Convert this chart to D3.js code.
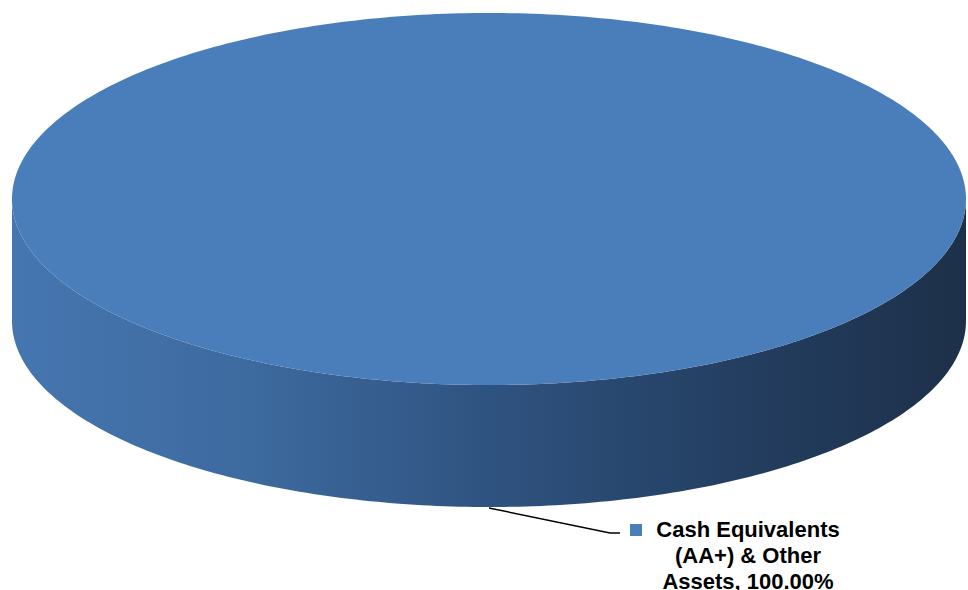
<!DOCTYPE html>
<html><head><meta charset="utf-8">
<script src="https://cdn.jsdelivr.net/npm/d3@7"></script>
<style>html,body{margin:0;padding:0;background:#fff;}svg{display:block;}</style>
</head><body>
<svg id="chart" width="968" height="590"></svg>
<script>
const categories = ["Cash Equivalents (AA+) & Other Assets"];
const labelLines = [["Cash Equivalents", "(AA+) & Other", "Assets, 100.00%"]];
const values = [100.00];
const colors = ["#4a7ebb"];

const W = 968, H = 590;
const cx = 489, cy = 199, rx = 477, ry = 186, depth = 122;
const svg = d3.select("#chart");

const defs = svg.append("defs");
const grad = defs.append("linearGradient").attr("id", "sideGrad")
  .attr("gradientUnits", "userSpaceOnUse")
  .attr("x1", cx - rx).attr("x2", cx + rx).attr("y1", 0).attr("y2", 0);
[[0, "#4676b0"], [0.25, "#3d6a9f"], [0.5, "#2f5380"], [0.75, "#243f62"], [1, "#1d3049"]]
  .forEach(([o, c]) => grad.append("stop").attr("offset", o).attr("stop-color", c));

// pie angles: 0 at top, clockwise (screen)
const pie = d3.pie().sort(null).value(d => d);
const arcs = pie(values);

function pt(a, dy) {
  return [cx + rx * Math.sin(a), cy - ry * Math.cos(a) + (dy || 0)];
}
function ellipseArcPoints(a0, a1, dy, n) {
  const pts = [];
  for (let i = 0; i <= n; i++) pts.push(pt(a0 + (a1 - a0) * i / n, dy));
  return pts;
}
const line = d3.line();

arcs.forEach((a, i) => {
  const s = Math.max(a.startAngle, Math.PI / 2), e = Math.min(a.endAngle, 3 * Math.PI / 2);
  if (e > s) {
    const top = ellipseArcPoints(s, e, 0, 200);
    const bot = ellipseArcPoints(e, s, depth, 200);
    svg.append("path").attr("d", line(top.concat(bot)) + "Z").attr("fill", "url(#sideGrad)");
  }
});
arcs.forEach((a, i) => {
  const full = (a.endAngle - a.startAngle) >= 2 * Math.PI - 1e-6;
  let pts = ellipseArcPoints(a.startAngle, a.endAngle, 0, 400);
  if (!full) pts = [[cx, cy]].concat(pts);
  svg.append("path").attr("d", line(pts) + "Z").attr("fill", colors[i]);
});

arcs.forEach((a, i) => {
  const mid = (a.startAngle + a.endAngle) / 2;
  const p0 = pt(mid, depth + 1);
  const elbow = [610, 533], end = [620, 533];
  svg.append("path").attr("d", line([p0, elbow, end]))
    .attr("fill", "none").attr("stroke", "#000").attr("stroke-width", 1.5);
  svg.append("rect").attr("x", 630).attr("y", 524).attr("width", 12).attr("height", 12).attr("fill", colors[i]);
  const t = svg.append("text").attr("font-family", "Liberation Sans, Arial, sans-serif")
    .attr("font-weight", "bold").attr("font-size", 22).attr("fill", "#000")
    .attr("text-anchor", "middle");
  labelLines[i].forEach((l, j) => {
    t.append("tspan").attr("x", 748).attr("y", 537 + j * 26).text(l);
  });
});
</script>
</body></html>
